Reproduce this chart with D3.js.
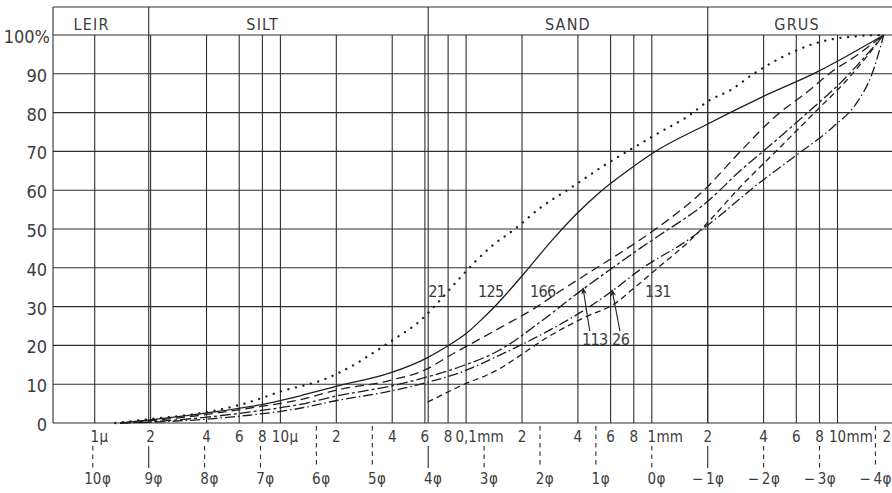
<!DOCTYPE html>
<html><head><meta charset="utf-8">
<script src="https://cdn.jsdelivr.net/npm/d3@7"></script>
<style>
html,body{margin:0;padding:0;background:#fff;}
svg{display:block;}
text{font-family:"Liberation Sans Narrow","DejaVu Sans Condensed",Roboto,sans-serif;fill:#3c3c3c;}
</style></head><body>
<svg id="chart" width="892" height="493"></svg>
<script>
// ---------------- data ----------------
const percentTicks = [0,10,20,30,40,50,60,70,80,90,100];
const sizeTicksMm = [0.001,0.002,0.004,0.006,0.008,0.01,0.02,0.04,0.06,0.08,0.1,0.2,0.4,0.6,0.8,1,2,4,6,8,10,20];
const sizeTickNumbers = ["1","2","4","6","8","10","2","4","6","8","0,1","2","4","6","8","1","2","4","6","8","10","2"];
const sizeTickUnits = ["µ","","","","","µ","","","","","mm","","","","","mm","","","","","mm",""];
const phiTicks = [10,9,8,7,6,5,4,3,2,1,0,-1,-2,-3,-4];
const zoneNames = ["LEIR","SILT","SAND","GRUS"];
const zoneBoundaryPhi = [9,4,-1];
const zoneLabelPhi = [10.02,6.96,1.5,-2.6];

// grain size (phi units) vs cumulative percent
const phi21 = [9.60,8.98,7.96,7.24,6.60,5.85,5.40,4.95,4.63,4.11,3.88,3.52,3.13,2.88,2.45,2.00,1.43,0.84,0.25,-0.09,-0.68,-0.99,-1.43,-1.81,-2.29,-2.96,-3.67,-4.15];
const pct21 = [0,1,2.8,5.2,8.3,11.3,14.4,18.4,21.4,26.8,30.2,36,42,45.4,50,55.4,60.8,66.5,71.6,74.5,79.4,82.8,86,89.9,94,98,99.7,100];

const phi125 = [9.51,8.98,7.96,6.96,6.29,5.63,4.68,4.02,3.66,3.31,3.02,2.77,2.27,1.79,1.34,0.93,0.34,-0.02,-0.99,-1.97,-2.96,-4.15];
const pct125 = [0,0.8,2.6,4.8,7,9.5,12.9,16.8,19.8,23.2,27,30.6,38.8,47,54,59.5,66,69.6,77,84,90.5,100];

const phi166 = [9.51,8.98,7.96,7.21,6.29,5.63,4.68,4.01,3.66,3.31,2.72,2.05,1.64,0.93,0.44,-0.02,-0.99,-1.52,-2.24,-2.78,-3.19,-3.67,-4.15];
const pct166 = [0,0.6,2.2,3.8,6,8.5,11,14,17,19.8,24.5,30,34,40.5,45,49.5,60.8,69,79.4,85.3,90.2,94.8,100];

const phi113 = [9.51,8.98,7.96,7.21,6.29,5.63,4.68,4.01,3.43,2.72,2.00,1.23,0.75,0.21,-0.15,-0.99,-1.58,-2.17,-2.78,-3.37,-4.15];
const pct113 = [0,0.3,1.5,2.8,4.8,7,9.5,11.9,14.5,18.8,26,34.5,39.5,45,48.5,57,65,72.2,79.9,87.6,100];

const phi26 = [9.51,8.98,7.96,7.21,6.29,5.63,4.68,4.01,3.43,2.72,1.82,1.11,0.71,0.21,-0.68,-1.22,-1.76,-2.47,-3.24,-3.64,-3.94,-4.15];
const pct26 = [0,0.2,1,2,3.8,5.8,8.2,10.5,13,17.5,24,30,34,39.5,47.5,53.5,60,67.8,76.3,82,90,100];

const phi131 = [4.01,3.43,2.72,2.45,1.82,1.16,0.69,0.30,-0.11,-0.68,-0.99,-1.58,-2.29,-2.96,-3.49,-4.15];
const pct131 = [5.4,9.5,14,16.5,22.5,27.5,30.5,35,40,47,51.5,60.8,71,80.7,88.4,100];

const curveLabelText = ["21","125","166","131","113","26"];
const curveLabelPhi = [4.0,3.11,2.18,0.12,1.25,0.71];
const curveLabelPct = [32.5,32.5,32.5,32.5,20.1,20.1];
const arrowFromPhi = [1.11,0.57], arrowFromPct = [23.7,23.7];
const arrowToPhi = [1.23,0.71], arrowToPct = [34.8,34.3];

// ---------------- layout ----------------
const left = 53, right = 892, headerTop = 7, plotTop = 35, plotBottom = 423;
const x = d3.scaleLinear().domain([10,-4]).range([92.8,875.4]);
const y = d3.scaleLinear().domain([0,100]).range([plotBottom,plotTop]);
const mmToPhi = mm => -Math.log2(mm);
const ink = "#2e2e2e";
const svg = d3.select("#chart");
svg.append("rect").attr("width",892).attr("height",493).attr("fill","#fff");

const grid = svg.append("g").attr("stroke",ink).attr("stroke-width",1.1).attr("fill","none");
grid.append("line").attr("x1",left).attr("x2",right).attr("y1",headerTop).attr("y2",headerTop);
grid.append("line").attr("x1",left).attr("x2",left).attr("y1",headerTop).attr("y2",plotBottom);
grid.selectAll(".h").data(percentTicks).join("line")
  .attr("x1",left).attr("x2",right).attr("y1",d=>y(d)).attr("y2",d=>y(d));
grid.selectAll(".v").data(sizeTicksMm).join("line")
  .attr("x1",d=>x(mmToPhi(d))).attr("x2",d=>x(mmToPhi(d)))
  .attr("y1",plotTop).attr("y2",plotBottom);
grid.selectAll(".z").data(zoneBoundaryPhi).join("line")
  .attr("x1",d=>x(d)).attr("x2",d=>x(d)).attr("y1",headerTop).attr("y2",plotBottom);

svg.selectAll(".zn").data(zoneNames).join("text")
  .attr("x",(d,i)=>x(zoneLabelPhi[i])).attr("y",30)
  .attr("text-anchor","middle").attr("font-size",16).attr("letter-spacing",1.2)
  .text(d=>d);

const yAxis = d3.axisLeft(y).tickValues(percentTicks).tickSize(0).tickPadding(6)
  .tickFormat(d=> d===100 ? "100%" : d);
const yg = svg.append("g").attr("transform",`translate(${left},0)`).call(yAxis);
yg.select(".domain").remove();
yg.attr("font-family",null).attr("font-size",null);
yg.selectAll("text").attr("font-size",18).attr("dy","0.42em").attr("fill","#3c3c3c")
  .attr("x",d=> d===100 ? -3 : -6);

// bottom row 1 (mm / µ)
const row1Boxes = [];
const r1 = svg.append("g");
sizeTicksMm.forEach((mm,i)=>{
  const px = x(mmToPhi(mm));
  const t = r1.append("text").attr("y",442).attr("font-size",15).text(sizeTickNumbers[i]);
  const w = t.node().getComputedTextLength();
  let x0 = Math.min(px - w/2, right - 1 - w);
  t.attr("x",x0);
  let r = x0 + w;
  if (sizeTickUnits[i]) {
    const u = r1.append("text").attr("x",r+0.5).attr("y",442).attr("font-size",15).text(sizeTickUnits[i]);
    r += u.node().getComputedTextLength() + 0.5;
  }
  row1Boxes.push([x0 - 1, r + 1]);
});

// bottom row 2 (phi) with connectors
const r2 = svg.append("g");
phiTicks.forEach(p=>{
  const px = x(p);
  const num = p < 0 ? "\u2212\u2009" + (-p) : String(p);
  const t = r2.append("text").attr("y",484).attr("font-size",15).text(num);
  const w = t.node().getComputedTextLength();
  const f = r2.append("text").attr("y",484).attr("font-size",15).text("φ");
  const fw = f.node().getComputedTextLength();
  let x0 = p < 0 ? px - (w + fw)/2 : px - w/2;
  x0 = Math.min(x0, right - 1 - w - fw);
  t.attr("x",x0); f.attr("x",x0 + w + 0.5);
  const isZone = zoneBoundaryPhi.includes(p);
  const overlaps = row1Boxes.some(b=> px >= b[0] && px <= b[1]);
  const y0 = overlaps ? 446 : (isZone ? plotBottom : 426);
  svg.append("line").attr("x1",px).attr("x2",px).attr("y1",y0).attr("y2",468)
    .attr("stroke",ink).attr("stroke-width",1.1)
    .attr("stroke-dasharray", isZone ? null : "4.5,4");
});

// curves
const series = [
  {phi:phi21,  pct:pct21,  dash:"0.1,7.6", w:2.3, cap:"round"},
  {phi:phi125, pct:pct125, dash:null,       w:1.3, cap:"butt"},
  {phi:phi166, pct:pct166, dash:"9,5",      w:1.3, cap:"butt"},
  {phi:phi113, pct:pct113, dash:"11,3,3,3", w:1.3, cap:"butt"},
  {phi:phi26,  pct:pct26,  dash:"10,3,1.5,3", w:1.3, cap:"butt"},
  {phi:phi131, pct:pct131, dash:"6,4",      w:1.3, cap:"butt"}
];
const line = d3.line().x(d=>x(d[0])).y(d=>y(d[1])).curve(d3.curveMonotoneX);
series.forEach(s=>{
  svg.append("path").datum(s.phi.map((p,i)=>[p,s.pct[i]]))
    .attr("d",line).attr("fill","none").attr("stroke","#1e1e1e")
    .attr("stroke-width",s.w).attr("stroke-linecap",s.cap)
    .attr("stroke-dasharray",s.dash);
});

// curve labels
svg.selectAll(".cl").data(curveLabelText).join("text")
  .attr("x",(d,i)=>x(curveLabelPhi[i])).attr("y",(d,i)=>y(curveLabelPct[i]))
  .attr("font-size",16).attr("letter-spacing",-0.6).text(d=>d);

// arrows
svg.append("defs").append("marker").attr("id","ah").attr("viewBox","0 0 10 10")
  .attr("refX",9).attr("refY",5).attr("markerWidth",7).attr("markerHeight",7)
  .attr("markerUnits","userSpaceOnUse").attr("orient","auto")
  .append("path").attr("d","M0,1 L10,5 L0,9 L3,5 Z").attr("fill","#222");
arrowFromPhi.forEach((p,i)=>{
  svg.append("line").attr("x1",x(p)).attr("y1",y(arrowFromPct[i]))
    .attr("x2",x(arrowToPhi[i])).attr("y2",y(arrowToPct[i]))
    .attr("stroke","#222").attr("stroke-width",1.1).attr("marker-end","url(#ah)");
});
</script>
</body></html>
